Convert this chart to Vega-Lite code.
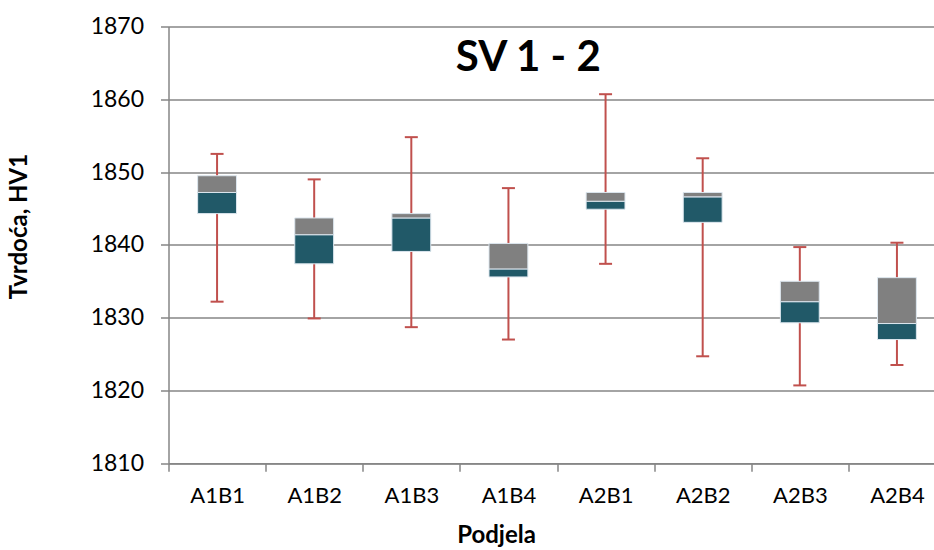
{
  "$schema": "https://vega.github.io/schema/vega-lite/v6.json",
  "autosize": {"type": "none"},
  "padding": {"left": 168.5, "top": 26.5, "right": 0, "bottom": 86.7},
  "width": 765.5,
  "height": 436.8,
  "background": "white",
  "title": {
    "text": "SV 1 - 2",
    "font": "Lato",
    "fontSize": 42,
    "fontWeight": "bold",
    "color": "black",
    "anchor": "middle",
    "frame": "group",
    "baseline": "alphabetic",
    "offset": 0,
    "dy": 97,
    "dx": -23
  },
  "config": {
    "view": {"stroke": null},
    "font": "Lato"
  },
  "data": {
    "values": [
      {"cat": "A1B1", "min": 1832.2, "q1": 1844.3, "med": 1847.2, "q3": 1849.5, "max": 1852.5},
      {"cat": "A1B2", "min": 1829.9, "q1": 1837.4, "med": 1841.4, "q3": 1843.7, "max": 1849.0},
      {"cat": "A1B3", "min": 1828.7, "q1": 1839.1, "med": 1843.7, "q3": 1844.3, "max": 1854.8},
      {"cat": "A1B4", "min": 1827.0, "q1": 1835.6, "med": 1836.7, "q3": 1840.2, "max": 1847.8},
      {"cat": "A2B1", "min": 1837.4, "q1": 1844.9, "med": 1846.0, "q3": 1847.2, "max": 1860.7},
      {"cat": "A2B2", "min": 1824.7, "q1": 1843.1, "med": 1846.6, "q3": 1847.2, "max": 1851.9},
      {"cat": "A2B3", "min": 1820.7, "q1": 1829.3, "med": 1832.2, "q3": 1835.0, "max": 1839.7},
      {"cat": "A2B4", "min": 1823.5, "q1": 1827.0, "med": 1829.2, "q3": 1835.5, "max": 1840.3}
    ]
  },
  "encoding": {
    "x": {
      "field": "cat",
      "type": "nominal",
      "sort": null,
      "scale": {"range": [0, 777], "paddingInner": 0, "paddingOuter": 0},
      "axis": {
        "title": "Podjela",
        "titleFont": "Lato",
        "titleFontSize": 24,
        "titleFontWeight": "bold",
        "titleColor": "black",
        "titleX": 327.5,
        "titleY": 79,
        "titleBaseline": "alphabetic",
        "labelFont": "Lato",
        "labelFontSize": 22,
        "labelColor": "black",
        "labelAngle": 0,
        "labelPadding": 14,
        "tickBand": "extent",
        "tickSize": 8,
        "tickColor": "#868686",
        "tickWidth": 1.5,
        "domainColor": "#868686",
        "domainWidth": 1.5,
        "grid": false
      }
    }
  },
  "layer": [
    {
      "mark": {"type": "rule", "color": "#C0504D", "strokeWidth": 2},
      "encoding": {
        "y": {
          "field": "min",
          "type": "quantitative",
          "scale": {"domain": [1810, 1870], "nice": false, "zero": false},
          "axis": {
            "title": "Tvrdoća, HV1",
            "titleFont": "Lato",
            "titleFontSize": 24,
            "titleFontWeight": "bold",
            "titleColor": "black",
            "titleAngle": 270,
            "titleX": -142,
            "titleY": 199.5,
            "titleAlign": "center",
            "titleBaseline": "alphabetic",
            "values": [1810, 1820, 1830, 1840, 1850, 1860, 1870],
            "format": "d",
            "labelFont": "Lato",
            "labelFontSize": 23,
            "labelColor": "black",
            "labelPadding": 17,
            "tickSize": 8,
            "tickColor": "#868686",
            "tickWidth": 1.5,
            "domainColor": "#868686",
            "domainWidth": 1.5,
            "grid": true,
            "gridColor": "#868686",
            "gridWidth": 1.5
          }
        },
        "y2": {"field": "max"}
      }
    },
    {
      "mark": {"type": "tick", "color": "#C0504D", "thickness": 2, "size": 13, "opacity": 1},
      "encoding": {"y": {"field": "min", "type": "quantitative"}}
    },
    {
      "mark": {"type": "tick", "color": "#C0504D", "thickness": 2, "size": 13, "opacity": 1},
      "encoding": {"y": {"field": "max", "type": "quantitative"}}
    },
    {
      "mark": {"type": "bar", "color": "#215968", "width": {"band": 0.4}, "stroke": "#dce6ee", "strokeWidth": 1},
      "encoding": {
        "y": {"field": "q1", "type": "quantitative"},
        "y2": {"field": "med"}
      }
    },
    {
      "mark": {"type": "bar", "color": "#808080", "width": {"band": 0.4}, "stroke": "#dce6ee", "strokeWidth": 1},
      "encoding": {
        "y": {"field": "med", "type": "quantitative"},
        "y2": {"field": "q3"}
      }
    }
  ]
}
